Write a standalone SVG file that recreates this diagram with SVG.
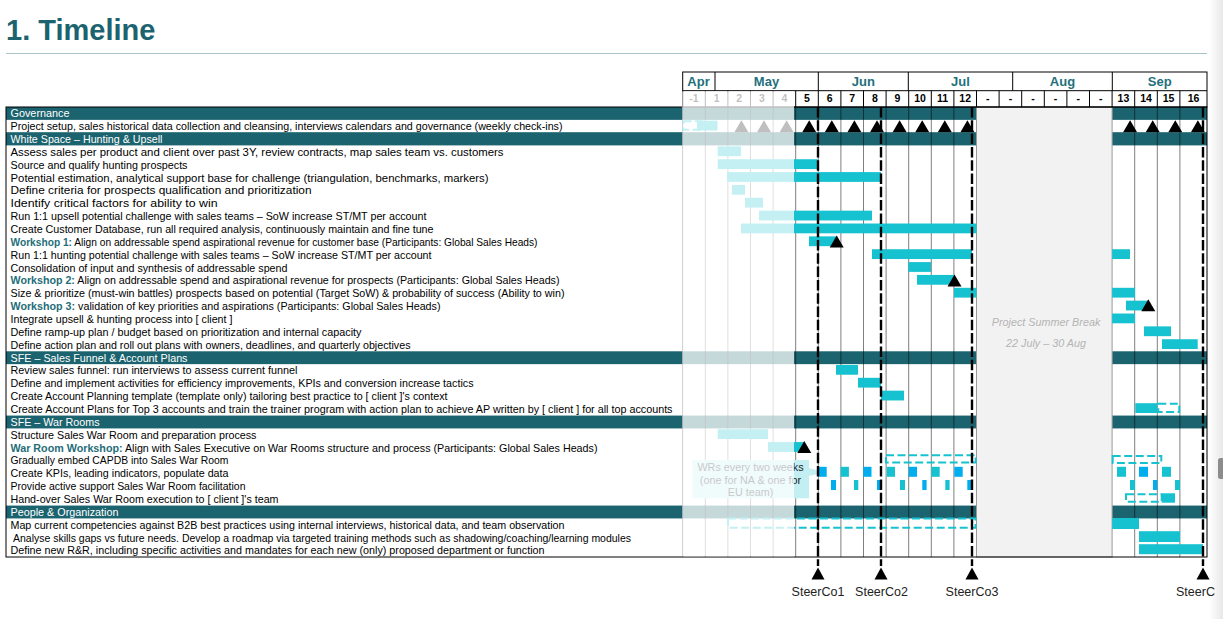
<svg xmlns="http://www.w3.org/2000/svg" width="1223" height="619" viewBox="0 0 1223 619">
<defs>
<style>
text{font-family:"Liberation Sans",Arial,sans-serif;}
.lbl{font-size:10.6px;fill:#000;}
.hdr{font-size:10.6px;fill:#fff;}
.ws{font-weight:bold;fill:#1f6e79;}
.band{fill:#1b636e;}
.bar{fill:#17c2d0;}
.blue{fill:#00aeef;}
.dbox{fill:none;stroke:#17c2d0;stroke-width:2;stroke-dasharray:8 3.5;}
.grid{stroke:#000;stroke-opacity:0.5;stroke-width:1;}
.hl{stroke:#000;stroke-width:1;}
.steer{stroke:#000;stroke-width:2.4;stroke-dasharray:10.5 2.8;fill:none;}
.mon{font-size:13px;font-weight:bold;fill:#23707c;text-anchor:middle;}
.wk{font-size:10.5px;font-weight:bold;fill:#000;text-anchor:middle;}
.sc{font-size:12.5px;fill:#222;}
.brk{font-size:10.8px;font-style:italic;fill:#b4b4b4;text-anchor:middle;}
.co{font-size:10.8px;fill:#222;text-anchor:middle;}
</style>
<path id="tri" d="M0,0 L7,12 L-7,12 Z" fill="#000"/>
<path id="tri2" d="M0,0 L6.5,12 L-6.5,12 Z" fill="#000"/>
<linearGradient id="edge" x1="0" x2="1" y1="0" y2="0"><stop offset="0" stop-color="#ffffff"/><stop offset="1" stop-color="#e8e8e8"/></linearGradient>
</defs>
<rect x="0" y="0" width="1223" height="619" fill="#fff"/>
<rect x="1209" y="0" width="14" height="619" fill="url(#edge)"/>
<rect x="1218" y="458" width="6" height="21" rx="2.5" fill="#8c8c8c"/>

<g id="title">
<text x="6" y="40" font-size="29" font-weight="bold" fill="#1b636e">1. Timeline</text>
<line x1="6" y1="53.5" x2="1207" y2="53.5" stroke="#a8c4c8" stroke-width="1"/>
</g>

<g id="bands">
<rect class="band" x="6" y="107" width="1201" height="12.86"/>
<rect class="band" x="6" y="132.2" width="1201" height="13.2"/>
<rect class="band" x="6" y="351.29" width="1201" height="12.86"/>
<rect class="band" x="6" y="415.57" width="1201" height="12.86"/>
<rect class="band" x="6" y="505.57" width="1201" height="12.86"/>
</g>

<g id="grid">
<line class="grid" x1="682.7" y1="107" x2="682.7" y2="557"/>
<line class="grid" x1="705.3" y1="107" x2="705.3" y2="557"/>
<line class="grid" x1="727.9" y1="107" x2="727.9" y2="557"/>
<line class="grid" x1="750.5" y1="107" x2="750.5" y2="557"/>
<line class="grid" x1="773.1" y1="107" x2="773.1" y2="557"/>
<line class="grid" x1="795.7" y1="107" x2="795.7" y2="557"/>
<line class="grid" x1="818.3" y1="107" x2="818.3" y2="557"/>
<line class="grid" x1="840.9" y1="107" x2="840.9" y2="557"/>
<line class="grid" x1="863.5" y1="107" x2="863.5" y2="557"/>
<line class="grid" x1="886.1" y1="107" x2="886.1" y2="557"/>
<line class="grid" x1="908.7" y1="107" x2="908.7" y2="557"/>
<line class="grid" x1="931.3" y1="107" x2="931.3" y2="557"/>
<line class="grid" x1="953.9" y1="107" x2="953.9" y2="557"/>
<line class="grid" x1="1134.7" y1="107" x2="1134.7" y2="557"/>
<line class="grid" x1="1157.3" y1="107" x2="1157.3" y2="557"/>
<line class="grid" x1="1179.9" y1="107" x2="1179.9" y2="557"/>
</g>

<g id="summer-break">
<rect x="976.5" y="107" width="135.6" height="450" fill="#f2f2f2" stroke="#9a9a9a" stroke-width="1"/>
<text class="brk" x="1046" y="325.7">Project Summer Break</text>
<text class="brk" x="1046" y="346.7">22 July – 30 Aug</text>
</g>

<g id="header">
<rect x="682.7" y="72" width="524.3" height="35" fill="none" stroke="#000" stroke-width="1"/>
<line class="hl" x1="682.7" y1="90.7" x2="1207" y2="90.7"/>
<line class="hl" x1="715" y1="72" x2="715" y2="90.7"/>
<line class="hl" x1="818.3" y1="72" x2="818.3" y2="90.7"/>
<line class="hl" x1="908.3" y1="72" x2="908.3" y2="90.7"/>
<line class="hl" x1="1012.7" y1="72" x2="1012.7" y2="90.7"/>
<line class="hl" x1="1112.3" y1="72" x2="1112.3" y2="90.7"/>
<text class="mon" x="698.5" y="86">Apr</text>
<text class="mon" x="766.5" y="86">May</text>
<text class="mon" x="863.3" y="86">Jun</text>
<text class="mon" x="960.5" y="86">Jul</text>
<text class="mon" x="1062.5" y="86">Aug</text>
<text class="mon" x="1159.7" y="86">Sep</text>
<g stroke="#000" stroke-width="1">
<line x1="682.7" y1="90.7" x2="682.7" y2="107"/>
<line x1="705.3" y1="90.7" x2="705.3" y2="107"/>
<line x1="727.9" y1="90.7" x2="727.9" y2="107"/>
<line x1="750.5" y1="90.7" x2="750.5" y2="107"/>
<line x1="773.1" y1="90.7" x2="773.1" y2="107"/>
<line x1="795.7" y1="90.7" x2="795.7" y2="107"/>
<line x1="818.3" y1="90.7" x2="818.3" y2="107"/>
<line x1="840.9" y1="90.7" x2="840.9" y2="107"/>
<line x1="863.5" y1="90.7" x2="863.5" y2="107"/>
<line x1="886.1" y1="90.7" x2="886.1" y2="107"/>
<line x1="908.7" y1="90.7" x2="908.7" y2="107"/>
<line x1="931.3" y1="90.7" x2="931.3" y2="107"/>
<line x1="953.9" y1="90.7" x2="953.9" y2="107"/>
<line x1="976.5" y1="90.7" x2="976.5" y2="107"/>
<line x1="999.1" y1="90.7" x2="999.1" y2="107"/>
<line x1="1021.7" y1="90.7" x2="1021.7" y2="107"/>
<line x1="1044.3" y1="90.7" x2="1044.3" y2="107"/>
<line x1="1066.9" y1="90.7" x2="1066.9" y2="107"/>
<line x1="1089.5" y1="90.7" x2="1089.5" y2="107"/>
<line x1="1112.1" y1="90.7" x2="1112.1" y2="107"/>
<line x1="1134.7" y1="90.7" x2="1134.7" y2="107"/>
<line x1="1157.3" y1="90.7" x2="1157.3" y2="107"/>
<line x1="1179.9" y1="90.7" x2="1179.9" y2="107"/>
</g>
<text class="wk" x="694" y="102">-1</text>
<text class="wk" x="716.6" y="102">1</text>
<text class="wk" x="739.2" y="102">2</text>
<text class="wk" x="761.8" y="102">3</text>
<text class="wk" x="784.4" y="102">4</text>
<text class="wk" x="807" y="102">5</text>
<text class="wk" x="829.6" y="102">6</text>
<text class="wk" x="852.2" y="102">7</text>
<text class="wk" x="874.8" y="102">8</text>
<text class="wk" x="897.4" y="102">9</text>
<text class="wk" x="920" y="102">10</text>
<text class="wk" x="942.6" y="102">11</text>
<text class="wk" x="965.2" y="102">12</text>
<text class="wk" x="987.8" y="102">-</text>
<text class="wk" x="1010.4" y="102">-</text>
<text class="wk" x="1033" y="102">-</text>
<text class="wk" x="1055.6" y="102">-</text>
<text class="wk" x="1078.2" y="102">-</text>
<text class="wk" x="1100.8" y="102">-</text>
<text class="wk" x="1123.4" y="102">13</text>
<text class="wk" x="1146" y="102">14</text>
<text class="wk" x="1168.6" y="102">15</text>
<text class="wk" x="1193.5" y="102">16</text>
</g>

<g id="task-01">
<rect class="bar" x="697" y="120.66" width="20.5" height="9.8"/>
<rect class="dbox" x="683.5" y="121.2" width="21.5" height="8.6"/>
<use href="#tri" x="741.4" y="120.2"/><use href="#tri" x="764" y="120.2"/><use href="#tri" x="786.6" y="120.2"/>
<use href="#tri" x="809.2" y="120.2"/><use href="#tri" x="831.8" y="120.2"/><use href="#tri" x="854.4" y="120.2"/>
<use href="#tri" x="877" y="120.2"/><use href="#tri" x="899.6" y="120.2"/><use href="#tri" x="922.2" y="120.2"/>
<use href="#tri" x="944.8" y="120.2"/><use href="#tri" x="967.4" y="120.2"/>
<use href="#tri" x="1130.1" y="120.2"/><use href="#tri" x="1152.7" y="120.2"/><use href="#tri" x="1175.3" y="120.2"/><use href="#tri" x="1197.9" y="120.2"/>
</g>
<g id="task-03"><rect class="bar" x="717.7" y="146.37" width="23.3" height="9.8"/></g>
<g id="task-04"><rect class="bar" x="717.7" y="159.23" width="100" height="9.8"/></g>
<g id="task-05"><rect class="bar" x="727" y="172.09" width="154" height="9.8"/></g>
<g id="task-06"><rect class="bar" x="732" y="184.94" width="13" height="9.8"/></g>
<g id="task-07"><rect class="bar" x="745" y="197.8" width="18" height="9.8"/></g>
<g id="task-08"><rect class="bar" x="759" y="210.66" width="113" height="9.8"/></g>
<g id="task-09"><rect class="bar" x="741" y="223.51" width="235.5" height="9.8"/></g>
<g id="task-10"><rect class="bar" x="809" y="236.37" width="27.7" height="9.8"/><use href="#tri" x="836.7" y="235.6"/></g>
<g id="task-11"><rect class="bar" x="872" y="249.23" width="100" height="9.8"/><rect class="bar" x="1112.1" y="249.23" width="17.9" height="9.8"/></g>
<g id="task-12"><rect class="bar" x="908.3" y="262.09" width="22.7" height="9.8"/></g>
<g id="task-13"><rect class="bar" x="917" y="274.94" width="37" height="9.8"/><use href="#tri" x="954.5" y="274.4"/></g>
<g id="task-14"><rect class="bar" x="954" y="287.8" width="22.5" height="9.8"/><rect class="bar" x="1112.1" y="287.8" width="22.9" height="9.8"/></g>
<g id="task-15"><rect class="bar" x="1126" y="300.66" width="22.3" height="9.8"/><use href="#tri" x="1148.3" y="299.2"/></g>
<g id="task-16"><rect class="bar" x="1112.1" y="313.51" width="22.9" height="9.8"/></g>
<g id="task-17"><rect class="bar" x="1144" y="326.37" width="27" height="9.8"/></g>
<g id="task-18"><rect class="bar" x="1162" y="339.23" width="35.7" height="9.8"/></g>
<g id="task-20"><rect class="bar" x="836" y="364.94" width="22" height="9.8"/></g>
<g id="task-21"><rect class="bar" x="858" y="377.8" width="23" height="9.8"/></g>
<g id="task-22"><rect class="bar" x="881" y="390.66" width="23" height="9.8"/></g>
<g id="task-23"><rect class="bar" x="1135.3" y="403.2" width="22" height="9.8"/><rect class="dbox" x="1158.3" y="403.7" width="21" height="8.3"/></g>
<g id="task-25"><rect class="bar" x="717.7" y="429.23" width="50.3" height="9.8"/></g>
<g id="task-26"><rect class="bar" x="768" y="442.09" width="36" height="9.8"/><use href="#tri" x="804.3" y="441"/></g>
<g id="task-27"><rect class="dbox" x="886" y="455.3" width="89.7" height="7.3"/><rect class="dbox" x="1112.7" y="456" width="48.6" height="7"/></g>

<g id="callout">
<rect x="692.3" y="460" width="116.7" height="38.3" fill="#c3eef2"/>
<polygon points="808,467.7 826.7,472.7 808,476" fill="#c3eef2"/>
<text class="co" x="750.5" y="470.5">WRs every two weeks</text>
<text class="co" x="750.5" y="483.5">(one for NA &amp; one for</text>
<text class="co" x="750.5" y="496">EU team)</text>
</g>

<g id="task-28">
<rect class="blue" x="818.3" y="466.8" width="8.4" height="10"/>
<rect class="bar" x="840.7" y="466.8" width="8.2" height="10"/>
<rect class="blue" x="863.3" y="466.8" width="8.2" height="10"/>
<rect class="bar" x="886.7" y="466.8" width="8.3" height="10"/>
<rect class="blue" x="908.7" y="466.8" width="8.3" height="10"/>
<rect class="bar" x="931.3" y="466.8" width="8.4" height="10"/>
<rect class="blue" x="954.3" y="466.8" width="8.4" height="10"/>
<rect class="bar" x="1117" y="466.8" width="9" height="10"/>
<rect class="blue" x="1139" y="466.8" width="9" height="10"/>
<rect class="bar" x="1162" y="466.8" width="9" height="10"/>
</g>
<g id="task-29">
<rect class="blue" x="831" y="480" width="5" height="10"/>
<rect class="bar" x="854" y="480" width="4.3" height="10"/>
<rect class="blue" x="877" y="480" width="4.5" height="10"/>
<rect class="bar" x="900" y="480" width="5" height="10"/>
<rect class="blue" x="922.3" y="480" width="4.3" height="10"/>
<rect class="bar" x="945.3" y="480" width="4.3" height="10"/>
<rect class="blue" x="967.3" y="480" width="5" height="10"/>
<rect class="bar" x="1130" y="480" width="5" height="10"/>
<rect class="blue" x="1153" y="480" width="4.3" height="10"/>
<rect class="bar" x="1175" y="480" width="5" height="10"/>
</g>
<g id="task-30"><rect class="dbox" x="1126" y="494.3" width="35.7" height="7.4"/><rect class="bar" x="1161.7" y="493.3" width="13.3" height="9.4"/></g>
<g id="task-32"><rect class="dbox" x="728" y="518.5" width="247.5" height="9.2"/><rect class="bar" x="1112.1" y="518" width="26.9" height="11"/></g>
<g id="task-33"><rect class="bar" x="1139" y="531.2" width="41" height="10.8"/></g>
<g id="task-34"><rect class="bar" x="1139" y="544.2" width="64" height="10"/></g>

<g id="connectors">
<line class="steer" x1="818" y1="107" x2="818" y2="566"/>
<line class="steer" x1="881" y1="107" x2="881" y2="566"/>
<line class="steer" x1="972" y1="107" x2="972" y2="566"/>
<line class="steer" x1="1203" y1="107" x2="1203" y2="566"/>
</g>

<rect id="table-border" x="6" y="107" width="1201" height="450" fill="none" stroke="#000" stroke-width="1"/>

<rect x="682.2" y="91.3" width="111.8" height="465" fill="#fff" fill-opacity="0.75"/>

<g id="labels">
<text class="hdr" x="10.5" y="117.3" textLength="59" lengthAdjust="spacingAndGlyphs">Governance</text>
<text class="lbl" x="10.5" y="130.16" textLength="552" lengthAdjust="spacingAndGlyphs">Project setup, sales historical data collection and cleansing, interviews calendars and governance (weekly check-ins)</text>
<text class="hdr" x="10.5" y="143.01" textLength="152" lengthAdjust="spacingAndGlyphs">White Space – Hunting &amp; Upsell</text>
<text class="lbl" x="10.5" y="155.87" textLength="493" lengthAdjust="spacingAndGlyphs">Assess sales per product and client over past 3Y, review contracts, map sales team vs. customers</text>
<text class="lbl" x="10.5" y="168.73" textLength="177" lengthAdjust="spacingAndGlyphs">Source and qualify hunting prospects</text>
<text class="lbl" x="10.5" y="181.59" textLength="478" lengthAdjust="spacingAndGlyphs">Potential estimation, analytical support base for challenge (triangulation, benchmarks, markers)</text>
<text class="lbl" x="10.5" y="194.44" textLength="301" lengthAdjust="spacingAndGlyphs">Define criteria for prospects qualification and prioritization</text>
<text class="lbl" x="10.5" y="207.3" textLength="207" lengthAdjust="spacingAndGlyphs">Identify critical factors for ability to win</text>
<text class="lbl" x="10.5" y="220.16" textLength="416" lengthAdjust="spacingAndGlyphs">Run 1:1 upsell potential challenge with sales teams – SoW increase ST/MT per account</text>
<text class="lbl" x="10.5" y="233.01" textLength="423" lengthAdjust="spacingAndGlyphs">Create Customer Database, run all required analysis, continuously maintain and fine tune</text>
<text class="lbl" x="10.5" y="245.87" textLength="527" lengthAdjust="spacingAndGlyphs"><tspan class="ws">Workshop 1:</tspan> Align on addressable spend aspirational revenue for customer base (Participants: Global Sales Heads)</text>
<text class="lbl" x="10.5" y="258.73" textLength="421" lengthAdjust="spacingAndGlyphs">Run 1:1 hunting potential challenge with sales teams – SoW increase ST/MT per account</text>
<text class="lbl" x="10.5" y="271.59" textLength="277" lengthAdjust="spacingAndGlyphs">Consolidation of input and synthesis of addressable spend</text>
<text class="lbl" x="10.5" y="284.44" textLength="549" lengthAdjust="spacingAndGlyphs"><tspan class="ws">Workshop 2:</tspan> Align on addressable spend and aspirational revenue for prospects (Participants: Global Sales Heads)</text>
<text class="lbl" x="10.5" y="297.3" textLength="554" lengthAdjust="spacingAndGlyphs">Size &amp; prioritize (must-win battles) prospects based on potential (Target SoW) &amp; probability of success (Ability to win)</text>
<text class="lbl" x="10.5" y="310.16" textLength="430" lengthAdjust="spacingAndGlyphs"><tspan class="ws">Workshop 3:</tspan> validation of key priorities and aspirations (Participants: Global Sales Heads)</text>
<text class="lbl" x="10.5" y="323.01" textLength="222" lengthAdjust="spacingAndGlyphs">Integrate upsell &amp; hunting process into [ client ]</text>
<text class="lbl" x="10.5" y="335.87" textLength="351" lengthAdjust="spacingAndGlyphs">Define ramp-up plan / budget based on prioritization and internal capacity</text>
<text class="lbl" x="10.5" y="348.73" textLength="400" lengthAdjust="spacingAndGlyphs">Define action plan and roll out plans with owners, deadlines, and quarterly objectives</text>
<text class="hdr" x="10.5" y="361.59" textLength="177" lengthAdjust="spacingAndGlyphs">SFE – Sales Funnel &amp; Account Plans</text>
<text class="lbl" x="10.5" y="374.44" textLength="287" lengthAdjust="spacingAndGlyphs">Review sales funnel: run interviews to assess current funnel</text>
<text class="lbl" x="10.5" y="387.3" textLength="463" lengthAdjust="spacingAndGlyphs">Define and implement activities for efficiency improvements, KPIs and conversion increase tactics</text>
<text class="lbl" x="10.5" y="400.16" textLength="437" lengthAdjust="spacingAndGlyphs">Create Account Planning template (template only) tailoring best practice to [ client ]'s context</text>
<text class="lbl" x="10.5" y="413.01" textLength="662" lengthAdjust="spacingAndGlyphs">Create Account Plans for Top 3 accounts and train the trainer program with action plan to achieve AP written by [ client ] for all top accounts</text>
<text class="hdr" x="10.5" y="425.87" textLength="89" lengthAdjust="spacingAndGlyphs">SFE – War Rooms</text>
<text class="lbl" x="10.5" y="438.73" textLength="246" lengthAdjust="spacingAndGlyphs">Structure Sales War Room and preparation process</text>
<text class="lbl" x="10.5" y="451.59" textLength="587" lengthAdjust="spacingAndGlyphs"><tspan class="ws">War Room Workshop:</tspan> Align with Sales Executive on War Rooms structure and process (Participants: Global Sales Heads)</text>
<text class="lbl" x="10.5" y="464.44" textLength="218" lengthAdjust="spacingAndGlyphs">Gradually embed CAPDB into Sales War Room</text>
<text class="lbl" x="10.5" y="477.3" textLength="218" lengthAdjust="spacingAndGlyphs">Create KPIs, leading indicators, populate data</text>
<text class="lbl" x="10.5" y="490.16" textLength="235" lengthAdjust="spacingAndGlyphs">Provide active support Sales War Room facilitation</text>
<text class="lbl" x="10.5" y="503.01" textLength="268" lengthAdjust="spacingAndGlyphs">Hand-over Sales War Room execution to [ client ]'s team</text>
<text class="hdr" x="10.5" y="515.87" textLength="108" lengthAdjust="spacingAndGlyphs">People &amp; Organization</text>
<text class="lbl" x="10.5" y="528.73" textLength="554" lengthAdjust="spacingAndGlyphs">Map current competencies against B2B best practices using internal interviews, historical data, and team observation</text>
<text class="lbl" x="13" y="541.59" textLength="618" lengthAdjust="spacingAndGlyphs">Analyse skills gaps vs future needs. Develop a roadmap via targeted training methods such as shadowing/coaching/learning modules</text>
<text class="lbl" x="10.5" y="554.44" textLength="534" lengthAdjust="spacingAndGlyphs">Define new R&amp;R, including specific activities and mandates for each new (only) proposed department or function</text>
</g>

<g id="steercos">
<use href="#tri2" x="818" y="567.5"/>
<use href="#tri2" x="881" y="567.5"/>
<use href="#tri2" x="972" y="567.5"/>
<use href="#tri2" x="1203" y="567.5"/>
<text class="sc" x="818" y="595.5" text-anchor="middle">SteerCo1</text>
<text class="sc" x="881.5" y="595.5" text-anchor="middle">SteerCo2</text>
<text class="sc" x="972" y="595.5" text-anchor="middle">SteerCo3</text>
<text class="sc" x="1176" y="595.5">SteerC</text>
</g>
</svg>
